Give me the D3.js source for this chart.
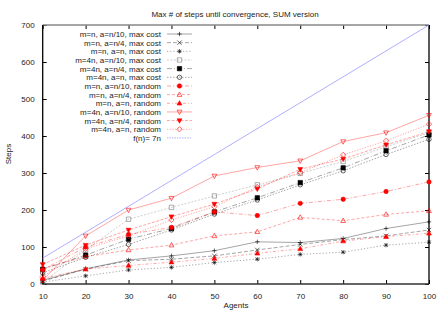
<!DOCTYPE html>
<html>
<head>
<meta charset="utf-8">
<script src="https://cdn.jsdelivr.net/npm/d3@7"></script>
<style>
  body { margin: 0; background: #fff; }
  svg text { font-family: "Liberation Sans", Arial, sans-serif; fill: #222; }
</style>
</head>
<body>
<div class="chart"></div>
<script>
//x values (number of agents)
var agents = [10, 20, 30, 40, 50, 60, 70, 80, 90, 100];

//series names, in legend order
var names = [
  "m=n, a=n/10, max cost", "m=n, a=n/4, max cost", "m=n, a=n, max cost",
  "m=4n, a=n/10, max cost", "m=4n, a=n/4, max cost", "m=4n, a=n, max cost",
  "m=n, a=n/10, random", "m=n, a=n/4, random", "m=n, a=n, random",
  "m=4n, a=n/10, random", "m=4n, a=n/4, random", "m=4n, a=n, random"
];

//steps for every series
var s1  = [10, 41, 65, 76, 90, 114, 112, 123, 150, 168];
var s2  = [8, 40, 63, 67, 76, 92, 107, 120, 130, 146];
var s3  = [5, 22, 38, 45, 58, 67, 80, 86, 105, 113];
var s4  = [5, 92, 175, 207, 238, 268, 299, 331, 371, 409];
var s5  = [40, 78, 121, 150, 195, 233, 274, 314, 360, 403];
var s6  = [30, 72, 107, 146, 189, 227, 268, 306, 350, 391];
var s7  = [38, 100, 134, 153, 195, 185, 218, 229, 250, 276];
var s8  = [42, 74, 92, 105, 130, 141, 180, 171, 188, 198];
var s9  = [15, 40, 50, 59, 69, 83, 95, 116, 128, 137];
var s10 = [10, 130, 200, 232, 292, 315, 333, 385, 409, 456];
var s11 = [53, 105, 146, 182, 216, 257, 310, 338, 376, 412];
var s12 = [20, 95, 130, 173, 209, 262, 301, 349, 387, 432];
var seriesVals = [s1, s2, s3, s4, s5, s6, s7, s8, s9, s10, s11, s12];

//reference line f(n) = 7n
var refName = "f(n)= 7n";
var refX = [10, 100];
var refY = [70, 700];

var yTicks = [0, 100, 200, 300, 400, 500, 600, 700];

//line style + marker for each series
var styles = [
  {c: "#000", dash: null,        m: "plus"},
  {c: "#000", dash: "4,2",       m: "cross"},
  {c: "#000", dash: "1.2,2",     m: "star"},
  {c: "#777", dash: "2,1.5",     m: "square"},
  {c: "#000", dash: "5,2,1,2",   m: "squareF"},
  {c: "#000", dash: "1.5,1.5",   m: "circle"},
  {c: "#f00", dash: "4,2,1,2",   m: "circleF"},
  {c: "#f00", dash: "3,2",       m: "tri"},
  {c: "#f00", dash: "3,2,1,2",   m: "triF"},
  {c: "#f00", dash: null,        m: "itri"},
  {c: "#f00", dash: "3,1.5",     m: "itriF"},
  {c: "#f00", dash: "1.2,1.5",   m: "diamond"}
];

const w = 445, h = 312;
const padL = 42.7, padR = 429, padT = 25, padB = 284;

const svg = d3.select(".chart").append("svg")
  .attr("width", w).attr("height", h);

const xScale = d3.scaleLinear().domain([10, 100]).range([padL, padR]);
const yScale = d3.scaleLinear().domain([0, 700]).range([padB, padT]);

//marker path around 0,0
function marker(type) {
  var r = 2.2;
  switch (type) {
    case "plus": return "M" + -r + ",0H" + r + "M0," + -r + "V" + r;
    case "cross": return "M" + -r + "," + -r + "L" + r + "," + r + "M" + -r + "," + r + "L" + r + "," + -r;
    case "star": return "M" + -r + ",0H" + r + "M0," + -r + "V" + r +
      "M" + -r*0.8 + "," + -r*0.8 + "L" + r*0.8 + "," + r*0.8 + "M" + -r*0.8 + "," + r*0.8 + "L" + r*0.8 + "," + -r*0.8;
    case "square": case "squareF":
      return "M" + -r + "," + -r + "H" + r + "V" + r + "H" + -r + "Z";
    case "circle": case "circleF":
      return "M" + r + ",0A" + r + "," + r + " 0 1,1 " + -r + ",0A" + r + "," + r + " 0 1,1 " + r + ",0Z";
    case "tri": case "triF":
      return "M0," + -r*1.2 + "L" + r*1.1 + "," + r*0.8 + "L" + -r*1.1 + "," + r*0.8 + "Z";
    case "itri": case "itriF":
      return "M0," + r*1.2 + "L" + r*1.1 + "," + -r*0.8 + "L" + -r*1.1 + "," + -r*0.8 + "Z";
    case "diamond":
      return "M0," + -r*1.2 + "L" + r*1.2 + ",0L0," + r*1.2 + "L" + -r*1.2 + ",0Z";
  }
}
function isFilled(type) { return type.slice(-1) == "F"; }

//axes frame + ticks
const yAxis = d3.axisLeft(yScale).tickValues(yTicks).tickSize(-4).tickPadding(8);
svg.append("g").attr("transform", "translate(" + padL + ",0)").call(yAxis)
  .call(g => g.select(".domain").remove())
  .call(g => g.selectAll("text").attr("font-size", 8).attr("fill", "#222"));
const yAxisR = d3.axisRight(yScale).tickValues(yTicks).tickSize(-4).tickFormat("");
svg.append("g").attr("transform", "translate(" + padR + ",0)").call(yAxisR)
  .call(g => g.select(".domain").remove());
const xAxis = d3.axisBottom(xScale).tickValues(agents).tickSize(-4).tickPadding(9);
svg.append("g").attr("transform", "translate(0," + padB + ")").call(xAxis)
  .call(g => g.select(".domain").remove())
  .call(g => g.selectAll("text").attr("font-size", 8).attr("fill", "#222"));
const xAxisT = d3.axisTop(xScale).tickValues(agents).tickSize(-4).tickFormat("");
svg.append("g").attr("transform", "translate(0," + padT + ")").call(xAxisT)
  .call(g => g.select(".domain").remove());

svg.append("line").attr("x1", padL).attr("x2", padR).attr("y1", padT).attr("y2", padT)
  .attr("stroke", "#888").attr("stroke-width", 1.3);
svg.append("line").attr("x1", padL).attr("x2", padR).attr("y1", padB).attr("y2", padB)
  .attr("stroke", "#333").attr("stroke-width", 1.3);
svg.append("line").attr("x1", padL).attr("x2", padL).attr("y1", padT).attr("y2", padB)
  .attr("stroke", "#000").attr("stroke-width", 1.3);
svg.append("line").attr("x1", padR).attr("x2", padR).attr("y1", padT).attr("y2", padB)
  .attr("stroke", "#000").attr("stroke-width", 1.3);

//the reference line
const line = d3.line().x(d => xScale(d[0])).y(d => yScale(d[1]));
svg.append("path")
  .datum(refX.map((x, i) => [x, refY[i]]))
  .attr("d", line).attr("fill", "none")
  .attr("stroke", "#9a9aff").attr("stroke-width", 0.8);

//series lines and markers
seriesVals.forEach(function(vals, i) {
  var st = styles[i];
  var pts = agents.map((a, j) => [a, vals[j]]);
  svg.append("path").datum(pts).attr("d", line)
    .attr("fill", "none").attr("stroke", st.c)
    .attr("stroke-opacity", 0.65).attr("stroke-width", 0.55)
    .attr("stroke-dasharray", st.dash);
  svg.selectAll(null).data(pts).enter().append("path")
    .attr("transform", d => "translate(" + xScale(d[0]) + "," + yScale(d[1]) + ")")
    .attr("d", marker(st.m))
    .attr("fill", isFilled(st.m) ? st.c : "none")
    .attr("stroke", st.c).attr("stroke-width", 0.6);
});

//legend
var legX = 161, legY = 34, legStep = 8.66;
var legRows = names.concat([refName]);
legRows.forEach(function(name, i) {
  var y = legY + i * legStep;
  svg.append("text").attr("x", legX).attr("y", y + 3)
    .attr("text-anchor", "end").attr("font-size", 8).text(name);
  var lg = svg.append("line").attr("x1", 167).attr("x2", 192).attr("y1", y).attr("y2", y)
    .attr("fill", "none");
  if (i < names.length) {
    var st = styles[i];
    lg.attr("stroke", st.c).attr("stroke-opacity", 0.65).attr("stroke-width", 0.55)
      .attr("stroke-dasharray", st.dash);
    svg.append("path").attr("transform", "translate(179.5," + y + ")")
      .attr("d", marker(st.m))
      .attr("fill", isFilled(st.m) ? st.c : "none")
      .attr("stroke", st.c).attr("stroke-width", 0.6);
  } else {
    lg.attr("stroke", "#9a9aff").attr("stroke-width", 0.8).attr("stroke-dasharray", "1.5,1");
  }
});

//titles
svg.append("text").attr("x", 235).attr("y", 17).attr("text-anchor", "middle")
  .attr("font-size", 8).text("Max # of steps until convergence, SUM version");
svg.append("text").attr("x", 236).attr("y", 308).attr("text-anchor", "middle")
  .attr("font-size", 8).text("Agents");
svg.append("text").attr("transform", "translate(11,154) rotate(-90)")
  .attr("text-anchor", "middle").attr("font-size", 8).text("Steps");
</script>
</body>
</html>
